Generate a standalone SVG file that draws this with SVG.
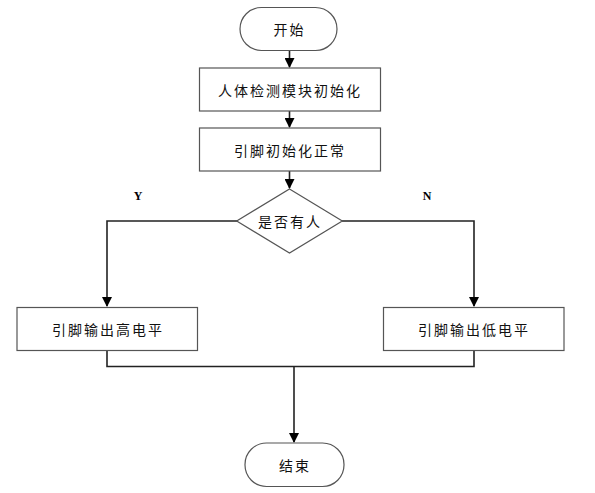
<svg xmlns="http://www.w3.org/2000/svg" width="595" height="493" viewBox="0 0 595 493">
<defs>
<marker id="arr" markerWidth="10" markerHeight="10" refX="9" refY="5" orient="auto" markerUnits="userSpaceOnUse">
<path d="M0,0 L10,5 L0,10 Z" fill="#000"/>
</marker>
<style>
.shape{fill:#fff;stroke:#555;stroke-width:1.2}
.t{font-family:"Noto Sans CJK SC","Liberation Sans",sans-serif;font-size:14px;letter-spacing:2px;fill:#111;text-anchor:middle;dominant-baseline:central}
.lbl{font-family:"Liberation Serif",serif;font-size:12px;font-weight:bold;fill:#000;text-anchor:middle}
.c{fill:none;stroke:#222;stroke-width:1.6}
</style>
</defs>
<rect width="595" height="493" fill="#fff"/>
<g id="connectors">
<path class="c" d="M289.5,51 L289.5,67" marker-end="url(#arr)"/>
<path class="c" d="M289.5,111 L289.5,127" marker-end="url(#arr)"/>
<path class="c" d="M289.5,171 L289.5,188" marker-end="url(#arr)"/>
<path class="c" d="M237,221 L107,221 L107,306" marker-end="url(#arr)"/>
<path class="c" d="M342,221 L474,221 L474,306" marker-end="url(#arr)"/>
<path class="c" d="M107,351 L107,366.5 L474,366.5 L474,351"/>
<path class="c" d="M294,366.5 L294,442" marker-end="url(#arr)"/>
</g>
<g id="start">
<rect class="shape" x="240" y="7.5" width="97" height="43" rx="21.5"/>
<text class="t" x="289.5" y="29">开始</text>
</g>
<g id="init">
<rect class="shape" x="199.5" y="68" width="181" height="43"/>
<text class="t" x="290" y="89.5">人体检测模块初始化</text>
</g>
<g id="pininit">
<rect class="shape" x="199.5" y="128" width="181" height="43"/>
<text class="t" x="290" y="149.5">引脚初始化正常</text>
</g>
<g id="decision">
<polygon class="shape" points="289.5,189 342.3,221 289.5,253 236.7,221"/>
<text class="t" x="290" y="221">是否有人</text>
</g>
<g id="labels">
<text class="lbl" x="138" y="200">Y</text>
<text class="lbl" x="427" y="200">N</text>
</g>
<g id="high">
<rect class="shape" x="17" y="307.5" width="180.5" height="43"/>
<text class="t" x="108" y="329">引脚输出高电平</text>
</g>
<g id="low">
<rect class="shape" x="383.5" y="307.5" width="180.5" height="43"/>
<text class="t" x="474" y="329">引脚输出低电平</text>
</g>
<g id="end">
<rect class="shape" x="245" y="443" width="99" height="43.5" rx="21.5"/>
<text class="t" x="295" y="465">结束</text>
</g>
</svg>
